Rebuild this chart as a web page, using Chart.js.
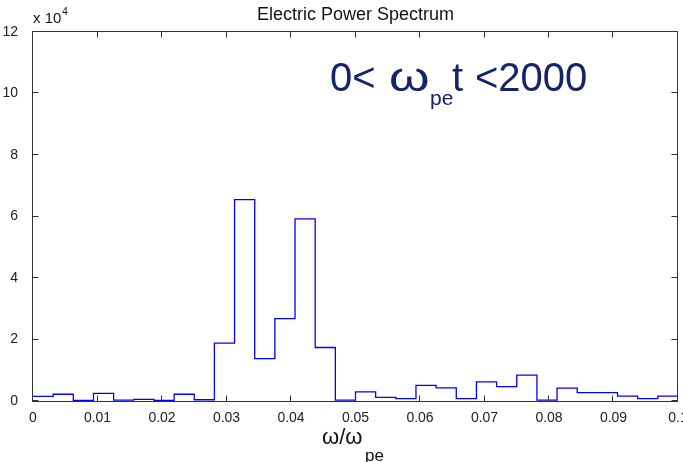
<!DOCTYPE html>
<html>
<head>
<meta charset="utf-8">
<script src="https://cdn.jsdelivr.net/npm/chart.js@4.4.1/dist/chart.umd.min.js"></script>
<style>
  body { margin: 0; background: #fff; }
  .chart_div { width: 683px; height: 462px; position: relative; }
</style>
</head>
<body>
<div class="chart_div"><canvas id="myChart"></canvas></div>
<script>
// bin edges of the spectrum (omega / omega_pe)
const binEdges = [0, 0.003125, 0.00625, 0.009375, 0.0125, 0.015625, 0.01875, 0.021875,
  0.025, 0.028125, 0.03125, 0.034375, 0.0375, 0.040625, 0.04375, 0.046875,
  0.05, 0.053125, 0.05625, 0.059375, 0.0625, 0.065625, 0.06875, 0.071875,
  0.075, 0.078125, 0.08125, 0.084375, 0.0875, 0.090625, 0.09375, 0.096875, 0.1];

// power in each bin, units of 10^4
const binPower = [0.15, 0.22, 0.02, 0.25, 0.03, 0.05, 0.02, 0.22,
  0.04, 1.88, 6.55, 1.38, 2.68, 5.92, 1.74, 0.03,
  0.30, 0.12, 0.08, 0.51, 0.43, 0.08, 0.62, 0.47,
  0.84, 0.03, 0.42, 0.27, 0.27, 0.16, 0.08, 0.16];

const xTicks = [0, 0.01, 0.02, 0.03, 0.04, 0.05, 0.06, 0.07, 0.08, 0.09, 0.1];
const yTicks = [0, 2, 4, 6, 8, 10, 12];

// stairs: each bin value held from its left edge to the next edge
const stairs = binEdges.map((e, i) => ({ x: e, y: binPower[Math.max(i - 1, 0)] }));

const fontFamily = "'Liberation Sans', Arial, sans-serif";

// box, inward ticks and extra text (matlab look)
const matlabBox = {
  id: 'matlabBox',
  afterDraw(chart) {
    const { ctx, chartArea } = chart;
    const xs = chart.scales.x, ys = chart.scales.y;
    const L = Math.round(chartArea.left) - 0.5, R = Math.round(chartArea.right) - 0.5;
    const T = Math.round(chartArea.top) - 0.5, B = Math.round(chartArea.bottom) + 0.5;
    ctx.save();
    ctx.strokeStyle = '#333';
    ctx.lineWidth = 1;
    ctx.beginPath();
    ctx.rect(L, T, R - L, B - T);
    xTicks.forEach(v => {
      const px = Math.round(xs.getPixelForValue(v)) - 0.5;
      ctx.moveTo(px, B); ctx.lineTo(px, B - 6);
      ctx.moveTo(px, T); ctx.lineTo(px, T + 6);
    });
    yTicks.forEach(v => {
      const py = Math.round(ys.getPixelForValue(v)) - 0.5;
      ctx.moveTo(L, py); ctx.lineTo(L + 6, py);
      ctx.moveTo(R, py); ctx.lineTo(R - 6, py);
    });
    ctx.stroke();

    // title
    ctx.fillStyle = '#111';
    ctx.textBaseline = 'alphabetic';
    ctx.textAlign = 'center';
    ctx.font = '18px ' + fontFamily;
    ctx.fillText('Electric Power Spectrum', (chartArea.left + chartArea.right) / 2, 20);

    // exponent
    ctx.textAlign = 'left';
    ctx.font = '15px ' + fontFamily;
    ctx.fillText('x 10', 33, 23);
    const w10 = ctx.measureText('x 10').width;
    ctx.font = '10px ' + fontFamily;
    ctx.fillText('4', 33 + w10 + 1, 15);

    // x axis label
    ctx.font = '22px ' + fontFamily;
    ctx.fillText('ω/ω', 322, 444);
    ctx.font = '17px ' + fontFamily;
    ctx.fillText('pe', 365, 461);

    // annotation
    ctx.fillStyle = '#14236b';
    ctx.font = '40px ' + fontFamily;
    ctx.fillText('0<', 330, 91);
    ctx.fillText('t', 452, 91);
    ctx.fillText('<2000', 475, 91);
    ctx.save();
    ctx.translate(389, 91);
    ctx.scale(1.3, 1);
    ctx.fillText('ω', 0, 0);
    ctx.restore();
    ctx.font = '21px ' + fontFamily;
    ctx.fillText('pe', 430, 105);
    ctx.restore();
  }
};

const ctx = document.getElementById('myChart');
const chart = new Chart(ctx, {
  type: 'line',
  data: {
    datasets: [{
      label: 'Electric Power Spectrum',
      data: stairs,
      stepped: 'after',
      borderColor: '#0000ff',
      borderWidth: 1.3,
      pointRadius: 0,
      fill: false
    }]
  },
  options: {
    responsive: true,
    maintainAspectRatio: false,
    animation: false,
    layout: { padding: { left: 0, right: 5, top: 32, bottom: 0 } },
    plugins: {
      legend: { display: false },
      tooltip: { enabled: false }
    },
    scales: {
      x: {
        type: 'linear',
        min: 0,
        max: 0.1,
        grid: { display: false },
        border: { display: false },
        afterBuildTicks: s => { s.ticks = xTicks.map(v => ({ value: v })); },
        afterFit: s => { s.height = 61; s.paddingLeft = 0; s.paddingRight = 0; },
        ticks: {
          autoSkip: false,
          maxRotation: 0,
          padding: 1,
          color: '#222',
          font: { family: fontFamily, size: 14 },
          callback: v => String(Number(v.toFixed(2)))
        }
      },
      y: {
        min: 0,
        max: 12,
        grid: { display: false },
        border: { display: false },
        afterBuildTicks: s => { s.ticks = yTicks.map(v => ({ value: v })); },
        afterFit: s => { s.width = 33; s.paddingTop = 0; s.paddingBottom = 0; },
        ticks: {
          padding: 7,
          color: '#222',
          font: { family: fontFamily, size: 14 }
        }
      }
    }
  },
  plugins: [matlabBox]
});
</script>
</body>
</html>
